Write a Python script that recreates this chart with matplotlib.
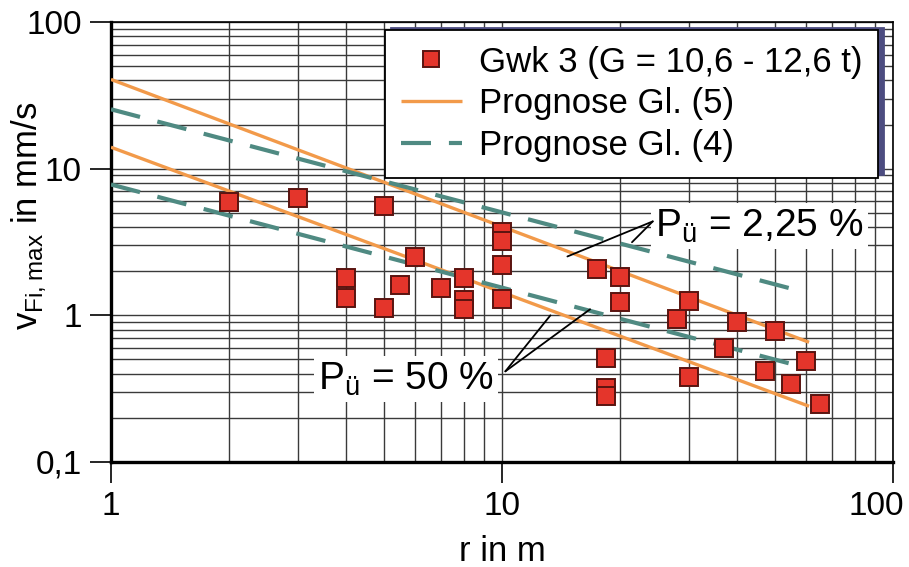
import numpy as np
import matplotlib
matplotlib.use("Agg")
import matplotlib.pyplot as plt
from matplotlib.transforms import ScaledTranslation

plt.rcParams['font.family'] = ['Liberation Sans', 'DejaVu Sans']

# messpunkte Gwk 3
r_pts = [2, 3, 5, 4, 4, 5, 5.5, 6, 7, 8, 8, 8,
         10, 10, 10, 10, 17.5, 20, 20, 18.5, 18.5, 18.5,
         30, 28, 30, 40, 37, 50, 47, 60, 55, 65]
v_pts = [5.9, 6.3, 5.6, 1.79, 1.31, 1.12, 1.6, 2.5, 1.53, 1.79, 1.27, 1.1,
         3.7, 3.2, 2.19, 1.29, 2.06, 1.82, 1.23, 0.51, 0.32, 0.28,
         1.25, 0.95, 0.38, 0.90, 0.60, 0.78, 0.42, 0.49, 0.34, 0.25]

# prognose linien (endpunkte)
r_gl5 = [1, 61]
v_gl5_hi = [40.6, 0.655]
v_gl5_lo = [14.0, 0.24]
r_gl4 = [1, 56]
v_gl4_hi = [25.4, 1.5]
v_gl4_lo = [7.8, 0.46]

xticks = [1, 10, 100]
xlabels = ['1', '10', '100']
yticks = [0.1, 1, 10, 100]
ylabels = ['0,1', '1', '10', '100']

orange = '#f29a4a'
teal = '#4f8a82'

fig = plt.figure(figsize=(9.09, 5.67), dpi=100)
ax = fig.add_axes([0.1221, 0.1852, 0.8603, 0.776])

ax.set_xscale('log')
ax.set_yscale('log')
ax.set_xlim(1, 100)
ax.set_ylim(0.1, 100)

ax.grid(True, which='both', color='#3a3a3a', lw=1.0)
ax.set_axisbelow(True)

l5, = ax.plot(r_gl5, v_gl5_hi, color=orange, lw=2.4, zorder=4, solid_capstyle='butt')
ax.plot(r_gl5, v_gl5_lo, color=orange, lw=2.4, zorder=4, solid_capstyle='butt')
l4, = ax.plot(r_gl4, v_gl4_hi, color=teal, lw=3, dashes=(7.2, 4.3), zorder=4)
ax.plot(r_gl4, v_gl4_lo, color=teal, lw=3, dashes=(7.2, 4.3), zorder=4)
pts, = ax.plot(r_pts, v_pts, ls='none', marker='s', ms=13, mfc='#e4352b',
               mec='#5a1410', mew=1.4, zorder=5)

ax.set_xticks(xticks)
ax.set_xticklabels(xlabels)
ax.set_yticks(yticks)
ax.set_yticklabels(ylabels)
ax.tick_params(which='major', length=15, width=1.2, labelsize=24, pad=6)
ax.tick_params(which='minor', length=0)

# "100" rechts buendig an den bildrand
lab100 = ax.get_xticklabels()[-1]
lab100.set_ha('right')
lab100.set_transform(lab100.get_transform() + ScaledTranslation(0.11, 0, fig.dpi_scale_trans))

for s in ['left', 'bottom']:
    ax.spines[s].set_linewidth(2.4)
for s in ['top', 'right']:
    ax.spines[s].set_linewidth(1.2)

ax.set_xlabel('r in m', fontsize=25, va='top')
ax.xaxis.set_label_coords(0.5, -0.165)
ax.set_ylabel(r'v$_{\mathregular{Fi,max}}$ in mm/s', fontsize=25)
ax.yaxis.set_label_coords(-0.08, 0.56)

leg = ax.legend([pts, l5, l4],
                ['Gwk 3 (G = 10,6 - 12,6 t)', 'Prognose Gl. (5)', 'Prognose Gl. (4)'],
                loc='upper right', bbox_to_anchor=(0.981, 0.982), borderaxespad=0,
                fontsize=25, frameon=True, fancybox=False, framealpha=1,
                edgecolor='black', handlelength=1.75, handletextpad=0.5,
                labelspacing=0.25, borderpad=0.45, markerscale=0.85,
                shadow={'color': '#4c4c80', 'ox': 4, 'oy': 1.5, 'alpha': 1})
leg.get_frame().set_linewidth(1.3)
leg.set_zorder(10)

box = dict(facecolor='white', edgecolor='none', pad=3)
ax.text(24.6, 3.46, r'P$_{\mathregular{ü}}$ = 2,25 %', fontsize=28, ha='left',
        va='baseline', bbox=box, zorder=6)
ax.text(3.38, 0.313, r'P$_{\mathregular{ü}}$ = 50 %', fontsize=28, ha='left',
        va='baseline', bbox=box, zorder=6)

lead = dict(arrowstyle='-', color='black', lw=1.3, shrinkA=0, shrinkB=0)
for tgt in [(14.7, 2.52), (21.5, 3.15)]:
    ax.annotate('', xy=tgt, xytext=(24.3, 4.37), arrowprops=lead, zorder=7)
for tgt in [(13.3, 1.0), (16.8, 1.1)]:
    ax.annotate('', xy=tgt, xytext=(10.2, 0.415), arrowprops=lead, zorder=7)

fig.savefig('out.png', dpi=100)
